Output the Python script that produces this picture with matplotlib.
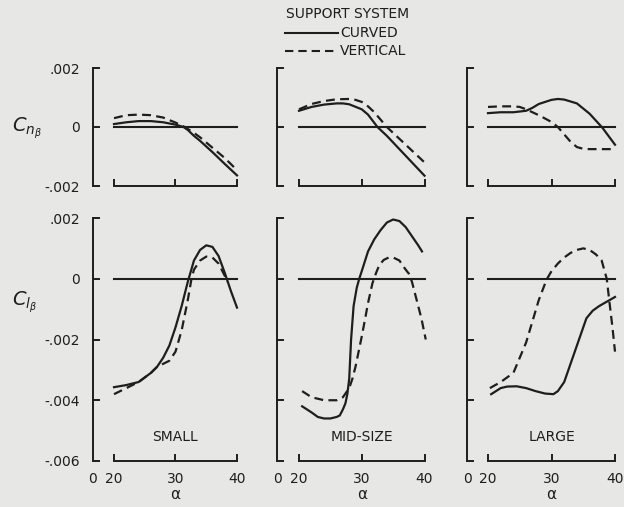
import numpy as np
import matplotlib
matplotlib.use("Agg")
import matplotlib.pyplot as plt
from matplotlib.lines import Line2D

# ---- data (alpha in deg) ----
# yawing moment derivative, C_n_beta
cn_small_curved_a = [20, 22, 24, 26, 28, 30, 31.3, 32, 33, 34, 36, 38, 40]
cn_small_curved = [0.0001, 0.00016, 0.0002, 0.0002, 0.00016, 0.00008, 0.0, -0.0001,
                   -0.0003, -0.00047, -0.00085, -0.00125, -0.00164]
cn_small_vert_a = [20, 22, 24, 26, 28, 30, 31.5, 33, 34, 36, 38, 39.7]
cn_small_vert = [0.0003, 0.0004, 0.00042, 0.0004, 0.00032, 0.00015, 0.0, -0.0002,
                 -0.00035, -0.0007, -0.00105, -0.0014]

cn_mid_curved_a = [20, 22, 24, 26, 27, 28, 30, 31, 32.5, 34, 36, 38, 40]
cn_mid_curved = [0.00055, 0.00068, 0.00076, 0.0008, 0.0008, 0.00077, 0.0006, 0.00042,
                 0.0, -0.0003, -0.00075, -0.0012, -0.00165]
cn_mid_vert_a = [20, 22, 24, 26, 28, 29, 30, 31, 32, 34, 36, 38, 40]
cn_mid_vert = [0.0006, 0.00078, 0.00088, 0.00094, 0.00095, 0.00092, 0.00085, 0.0007,
               0.0005, 0.0, -0.0004, -0.0008, -0.0012]

cn_large_curved_a = [20, 22, 24, 26, 27, 28, 30, 31, 32, 34, 36, 38, 40]
cn_large_curved = [0.00047, 0.0005, 0.0005, 0.00055, 0.00065, 0.00078, 0.00092, 0.00095,
                   0.00093, 0.0008, 0.00045, -0.00002, -0.0006]
cn_large_vert_a = [20, 22, 24, 25, 26, 28, 30, 31, 32, 33, 34, 35, 36, 38, 40]
cn_large_vert = [0.00068, 0.0007, 0.0007, 0.00068, 0.0006, 0.0004, 0.00017, 0.0, -0.00025,
                 -0.0005, -0.00068, -0.00074, -0.00075, -0.00075, -0.00075]

# rolling moment derivative, C_l_beta
cl_small_curved_a = [20, 22, 24, 26, 27, 28, 29, 30, 31, 32, 33, 34, 35, 36, 37, 38, 39, 40]
cl_small_curved = [-0.00357, -0.0035, -0.0034, -0.0031, -0.0029, -0.0026, -0.0022, -0.0016,
                   -0.0009, -0.0001, 0.0006, 0.00095, 0.0011, 0.00105, 0.00075, 0.0002,
                   -0.0004, -0.00095]
cl_small_vert_a = [20, 22, 24, 26, 27, 28, 29, 30, 31, 32, 32.6, 33, 34, 35, 36, 37, 38, 38.5]
cl_small_vert = [-0.0038, -0.0036, -0.0034, -0.0031, -0.0029, -0.0028, -0.0027, -0.0024,
                 -0.0017, -0.0007, 0.0, 0.0003, 0.0006, 0.00073, 0.0007, 0.0005, 0.0001,
                 -0.0001]

cl_mid_curved_a = [20.5, 22, 23, 24, 25, 26, 26.5, 27, 27.4, 27.7, 28.0, 28.3, 28.7, 29.2,
                   29.6, 30, 31, 32, 33, 34, 35, 36, 37, 38, 39, 39.6]
cl_mid_curved = [-0.0042, -0.0044, -0.00455, -0.0046, -0.0046, -0.00455, -0.0045, -0.0043,
                 -0.0041, -0.0038, -0.0033, -0.002, -0.0009, -0.0003, 0.0, 0.00025, 0.0009,
                 0.0013, 0.0016, 0.00185, 0.00195, 0.0019, 0.0017, 0.0014, 0.0011, 0.0009]
cl_mid_vert_a = [20.5, 22, 24, 26, 27, 28, 28.5, 29, 29.6, 30, 30.6, 31, 31.7, 32.3, 32.8,
                 33.5, 34.3, 35, 36, 37, 37.5, 38, 38.5, 39, 39.5, 40.2]
cl_mid_vert = [-0.0037, -0.0039, -0.004, -0.004, -0.0039, -0.0036, -0.0033, -0.0029,
               -0.0023, -0.0019, -0.00125, -0.0008, -0.00015, 0.0002, 0.00045, 0.00062,
               0.0007, 0.0007, 0.0006, 0.0003, 0.00017, -0.0001, -0.0005, -0.0009,
               -0.0013, -0.002]

cl_large_curved_a = [20.5, 22, 23, 24.5, 26, 27.5, 29, 30.3, 31, 32, 33, 34, 35, 35.5,
                     36.5, 37.5, 38.5, 40]
cl_large_curved = [-0.0038, -0.0036, -0.00355, -0.00354, -0.0036, -0.0037, -0.00378,
                   -0.0038, -0.0037, -0.0034, -0.0028, -0.0022, -0.0016, -0.0013,
                   -0.00105, -0.0009, -0.00078, -0.0006]
cl_large_vert_a = [20.3, 22, 24, 25, 26, 27, 28, 29, 29.3, 30, 31, 32, 33, 34, 35, 36, 37,
                   37.9, 38.3, 38.7, 39.2, 39.6, 40]
cl_large_vert = [-0.0036, -0.0034, -0.0031, -0.0026, -0.0021, -0.0014, -0.0007, -0.00015,
                 0.0, 0.00025, 0.0005, 0.0007, 0.00085, 0.00095, 0.001, 0.00095, 0.0008,
                 0.0006, 0.0003, 0.0, -0.0009, -0.0016, -0.0024]

sizes = ["SMALL", "MID-SIZE", "LARGE"]
cn_data = [(cn_small_curved_a, cn_small_curved, cn_small_vert_a, cn_small_vert),
           (cn_mid_curved_a, cn_mid_curved, cn_mid_vert_a, cn_mid_vert),
           (cn_large_curved_a, cn_large_curved, cn_large_vert_a, cn_large_vert)]
cl_data = [(cl_small_curved_a, cl_small_curved, cl_small_vert_a, cl_small_vert),
           (cl_mid_curved_a, cl_mid_curved, cl_mid_vert_a, cl_mid_vert),
           (cl_large_curved_a, cl_large_curved, cl_large_vert_a, cl_large_vert)]

cn_ticks = [0.002, 0.0, -0.002]
cn_ticklabels = [".002", "0", "-.002"]
cl_ticks = [0.002, 0.0, -0.002, -0.004, -0.006]
cl_ticklabels = [".002", "0", "-.002", "-.004", "-.006"]
alpha_ticks = [20, 30, 40]

# ---- layout (pixels of the 624x507 picture) ----
W, H = 624, 507
BG = "#e7e7e5"
INK = "#1e1e1e"
col_spine = [92.5, 277, 467]
col_x20 = [114, 299, 488]
col_x40 = [237, 424.5, 615]
rows = [(68, 186, -0.002, 0.002), (218, 461, -0.006, 0.002)]   # top px, bottom px, ymin, ymax

plt.rcParams["font.family"] = "DejaVu Sans"
fig = plt.figure(figsize=(W / 100, H / 100), dpi=100, facecolor=BG)

dash = (0, (4.0, 2.4))


def make_axes(row, col):
    top, bot, ymin, ymax = rows[row]
    ppu = (col_x40[col] - col_x20[col]) / 20.0
    xlo = 20 - (col_x20[col] - col_spine[col]) / ppu
    xhi = 40 + 5 / ppu
    ypp = (ymax - ymin) / (bot - top)
    ytop = ymax + 4 * ypp
    l, r, t, b = col_spine[col], col_x40[col] + 5, top - 4, bot
    ax = fig.add_axes([l / W, 1 - b / H, (r - l) / W, (b - t) / H])
    ax.set_facecolor("none")
    ax.set_xlim(xlo, xhi)
    ax.set_ylim(ymin, ytop)
    for s in ["top", "right"]:
        ax.spines[s].set_visible(False)
    ax.spines["left"].set_bounds(ymin, ymax)
    ax.spines["bottom"].set_bounds(20, 40)
    for s in ["left", "bottom"]:
        ax.spines[s].set_linewidth(1.4)
        ax.spines[s].set_color(INK)
    ax.tick_params(direction="in", length=5, width=1.4, color=INK, labelcolor=INK,
                   labelsize=10)
    return ax, xlo


for row, data in enumerate([cn_data, cl_data]):
    for col in range(3):
        ax, xlo = make_axes(row, col)
        ca, cv, va, vv = data[col]
        ax.plot([20, 40], [0, 0], color=INK, lw=1.5)
        ax.plot(ca, cv, color=INK, lw=1.6, solid_joinstyle="round")
        ax.plot(va, vv, color=INK, lw=1.6, linestyle=dash)

        ticks = cn_ticks if row == 0 else cl_ticks
        labels = cn_ticklabels if row == 0 else cl_ticklabels
        ax.set_yticks(ticks)
        if col == 0:
            ax.set_yticklabels(labels)
            ax.tick_params(axis="y", pad=9)
        else:
            ax.set_yticklabels([])

        if row == 0:
            ax.set_xticks(alpha_ticks)
            ax.set_xticklabels([])
        else:
            ax.set_xticks([xlo] + alpha_ticks)
            ax.set_xticklabels(["0", "20", "30", "40"])
            ax.xaxis.get_major_ticks()[0].tick1line.set_visible(False)
            ax.tick_params(axis="x", pad=8)
            ax.text(30, -0.0052, sizes[col], ha="center", va="center",
                    fontsize=10, color=INK)
            fr = (30 - xlo) / (ax.get_xlim()[1] - xlo)
            ax.set_xlabel("α", fontsize=11, color=INK, labelpad=0)
            ax.xaxis.set_label_coords(fr, -0.105)

# y-axis titles
fig.text(12 / W, 1 - 128 / H, r"$C_{n_{\beta}}$", fontsize=14, color=INK,
         ha="left", va="center")
fig.text(12 / W, 1 - 302 / H, r"$C_{l_{\beta}}$", fontsize=14, color=INK,
         ha="left", va="center")

# legend
fig.text(348 / W, 1 - 14 / H, "SUPPORT SYSTEM", fontsize=10, color=INK,
         ha="center", va="center")
fig.add_artist(Line2D([285 / W, 338 / W], [1 - 33 / H, 1 - 33 / H], color=INK, lw=1.5))
fig.text(340 / W, 1 - 33 / H, "CURVED", fontsize=10, color=INK, ha="left", va="center")
fig.add_artist(Line2D([285 / W, 338 / W], [1 - 51 / H, 1 - 51 / H], color=INK, lw=1.5,
                      linestyle=dash))
fig.text(340 / W, 1 - 51 / H, "VERTICAL", fontsize=10, color=INK, ha="left", va="center")

fig.savefig("out.png", dpi=100, facecolor=BG)
